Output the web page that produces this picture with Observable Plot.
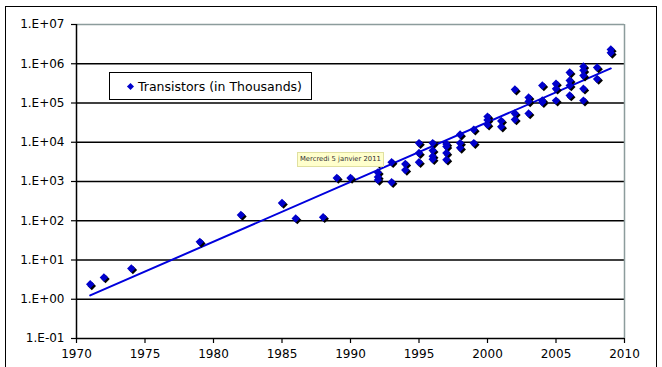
<!DOCTYPE html>
<html>
<head>
<meta charset="utf-8">
<script src="https://cdn.jsdelivr.net/npm/d3@7"></script>
<script src="https://cdn.jsdelivr.net/npm/@observablehq/plot@0.6"></script>
<style>
  html, body { margin: 0; padding: 0; background: #fff; overflow: hidden; }
  #wrap { position: relative; width: 662px; height: 367px; font-family: "DejaVu Sans", Verdana, sans-serif; }
  #frame { position: absolute; left: 5px; top: 6px; width: 652px; height: 420px; border: 1.5px solid #000; box-sizing: border-box; pointer-events: none; }
  #chart { position: absolute; left: 0; top: 0; }
  #legend { position: absolute; left: 109px; top: 72px; width: 203px; height: 28px; border: 1.5px solid #000; box-sizing: border-box; background: #fff;
            font-size: 12.5px; color: #000; display: flex; align-items: center; padding-left: 18px; white-space: nowrap; }
  #legend .mk { display: inline-block; width: 5px; height: 5px; background: #0000cc; transform: rotate(45deg); margin-right: 5px; }
  #tip { position: absolute; left: 297px; top: 152px; height: 13px; padding: 0 2px; background: #ffffcc; border: 1px solid #e0e0a0;
         font-size: 6.8px; line-height: 13px; color: #333; white-space: nowrap; }
</style>
</head>
<body>
<div id="wrap">
  <div id="chart"></div>
  <div id="frame"></div>
  <div id="legend"><span class="mk"></span>Transistors (in Thousands)</div>
  <div id="tip">Mercredi 5 janvier 2011</div>
</div>
<script>
// Data (transistor counts, in thousands)
const years = [
  1971, 1972, 1974, 1979, 1982, 1985, 1986, 1988, 1989, 1990,
  1992, 1992, 1992, 1992, 1993, 1993, 1994, 1994,
  1995, 1995, 1995, 1996, 1996, 1996, 1996,
  1997, 1997, 1997, 1997, 1998, 1998, 1998, 1999, 1999,
  2000, 2000, 2000, 2001, 2001, 2002, 2002, 2002,
  2003, 2003, 2003, 2004, 2004, 2004, 2005, 2005, 2005,
  2006, 2006, 2006, 2006, 2007, 2007, 2007, 2007, 2007,
  2008, 2008, 2009, 2009
];
const transistors = [
  2.4, 3.6, 6.1, 29, 141, 283, 114, 123, 1230, 1230,
  3000, 1700, 1300, 1100, 3100, 960, 2800, 1970,
  9500, 5300, 3100, 9500, 6200, 4400, 3700,
  9000, 7800, 5300, 3600, 15700, 9500, 7200, 21000, 9500,
  45000, 37000, 28000, 35000, 25000, 220000, 54000, 38000,
  138000, 110000, 54000, 280000, 116000, 105000, 310000, 230000, 115000,
  600000, 375000, 280000, 155000, 850000, 680000, 500000, 230000, 115000,
  800000, 410000, 2300000, 1900000
];
// Exponential trendline endpoints
const trendYears = [1971, 2009];
const trendValues = [1.25, 760000];

const xTicks = [1970, 1975, 1980, 1985, 1990, 1995, 2000, 2005, 2010];
const yTicks = [1e-1, 1e0, 1e1, 1e2, 1e3, 1e4, 1e5, 1e6, 1e7];
const yTickLabels = ["1.E-01", "1.E+00", "1.E+01", "1.E+02", "1.E+03", "1.E+04", "1.E+05", "1.E+06", "1.E+07"];

const points = years.map((y, i) => ({year: y, value: transistors[i]}));
const trend = trendYears.map((y, i) => ({year: y, value: trendValues[i]}));
const gridInner = yTicks.slice(1, -1);

const blue = "#0000cc";

const chart = Plot.plot({
  width: 662,
  height: 367,
  marginLeft: 76,
  marginRight: 38,
  marginTop: 24,
  marginBottom: 29,
  style: {fontFamily: "'DejaVu Sans', Verdana, sans-serif", fontSize: "12px", color: "#000", background: "transparent"},
  x: {domain: [1970, 2010], label: null},
  y: {type: "log", domain: [1e-1, 1e7], label: null},
  marks: [
    Plot.ruleY(gridInner, {stroke: "#000", strokeWidth: 1.5}),
    Plot.ruleY([yTicks[yTicks.length - 1]], {stroke: "#8c9c9c", strokeWidth: 1.5}),
    Plot.ruleX([xTicks[xTicks.length - 1]], {stroke: "#8c9c9c", strokeWidth: 1.5}),
    Plot.ruleY([yTicks[0]], {stroke: "#000", strokeWidth: 1.5}),
    Plot.ruleX([xTicks[0]], {stroke: "#000", strokeWidth: 1.5}),
    Plot.axisX({ticks: xTicks, tickFormat: d => String(d), tickSize: 5, tickPadding: 6, strokeWidth: 1.2, fill: "#000", fontSize: 12}),
    Plot.axisY({ticks: yTicks, tickFormat: d => yTickLabels[yTicks.indexOf(d)], tickSize: 5, tickPadding: 7, strokeWidth: 1.2, fill: "#000", fontSize: 12}),
    Plot.line(trend, {x: "year", y: "value", stroke: "#0000dd", strokeWidth: 2}),
    Plot.dot(points, {x: "year", y: "value", symbol: "diamond2", r: 3.8, fill: "#000", stroke: "none", dx: 1.6, dy: 1.6}),
    Plot.dot(points, {x: "year", y: "value", symbol: "diamond2", r: 3.8, fill: blue, stroke: "none"})
  ]
});
document.getElementById("chart").appendChild(chart);
</script>
</body>
</html>
